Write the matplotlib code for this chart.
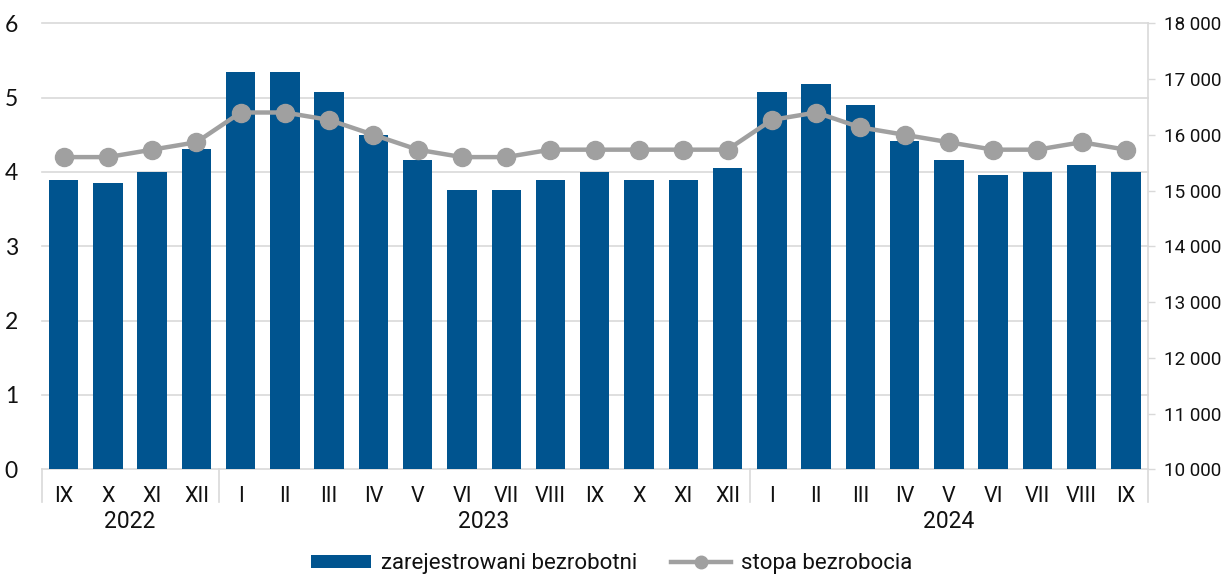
import matplotlib
matplotlib.use("Agg")
import matplotlib.pyplot as plt
from matplotlib.transforms import blended_transform_factory
from matplotlib.ticker import FuncFormatter
from matplotlib.lines import Line2D
from matplotlib.patches import Patch

months = ["IX", "X", "XI", "XII",
          "I", "II", "III", "IV", "V", "VI", "VII", "VIII", "IX", "X", "XI", "XII",
          "I", "II", "III", "IV", "V", "VI", "VII", "VIII", "IX"]
years = ["2022", "2023", "2024"]
year_counts = [4, 12, 9]
unemployed = [15190, 15140, 15340, 15750,
              17120, 17120, 16770, 16000, 15550, 15010, 15010, 15190, 15340, 15190, 15190, 15410,
              16770, 16920, 16540, 15880, 15550, 15270, 15340, 15460, 15340]
rate = [4.2, 4.2, 4.3, 4.4,
        4.8, 4.8, 4.7, 4.5, 4.3, 4.2, 4.2, 4.3, 4.3, 4.3, 4.3, 4.3,
        4.7, 4.8, 4.6, 4.5, 4.4, 4.3, 4.3, 4.4, 4.3]
rate_ticks = [0, 1, 2, 3, 4, 5, 6]
count_ticks = [10000, 11000, 12000, 13000, 14000, 15000, 16000, 17000, 18000]

BAR = "#00548F"
LINE = "#A0A0A0"
GRID = "#D9D9D9"
TXT = "#111111"

plt.rcParams['font.family'] = ['Roboto', 'DejaVu Sans']

fig = plt.figure(figsize=(12.23, 5.77), dpi=100)
ax = fig.add_axes([41.5 / 1223, 1 - 469.3 / 577, (1148 - 41.5) / 1223, (469.3 - 23.3) / 577])
ax2 = ax.twinx()

x = list(range(len(months)))
ax.set_xlim(-0.5, len(months) - 0.5)
ax.set_ylim(count_ticks[0], count_ticks[-1])
ax2.set_ylim(rate_ticks[0], rate_ticks[-1])

# gridlines from left (rate) scale, drawn behind bars
gtrans = blended_transform_factory(ax.transAxes, ax2.transData)
for t in rate_ticks:
    ax.plot([0, 1], [t, t], transform=gtrans, color=GRID, lw=1.2, zorder=0.5, clip_on=False)

ax.bar(x, unemployed, width=0.665, color=BAR, zorder=2)
ax2.plot(x, rate, color=LINE, lw=3.2, marker='o', markersize=13, zorder=3)

# bars axis -> right side
ax.yaxis.tick_right()
ax.set_yticks(count_ticks)
ax.yaxis.set_major_formatter(FuncFormatter(lambda v, p: f"{int(v):,}".replace(",", " ")))
ax.tick_params(axis='y', length=5, width=1, color=GRID, pad=6.5, labelsize=13.6, labelcolor=TXT)
# rate axis -> left side
ax2.yaxis.tick_left()
ax2.set_yticks(rate_ticks)
ax2.tick_params(axis='y', length=0, pad=17, labelsize=16.5, labelcolor=TXT)
for lab in ax2.get_yticklabels():
    lab.set_family(['Lato', 'DejaVu Sans'])

for a in (ax, ax2):
    for s in ('top', 'left', 'bottom', 'right'):
        a.spines[s].set_visible(False)
ax.spines['right'].set_visible(True)
ax.spines['right'].set_color(GRID)
ax.spines['right'].set_linewidth(1.2)

ax.set_xticks(x)
ax.set_xticklabels(months)
ax.tick_params(axis='x', length=0, pad=12, labelsize=15.5, labelcolor=TXT)

# category group separators and year labels
sep_trans = blended_transform_factory(ax.transData, ax.transAxes)
depth = -(502 - 469.3) / (469.3 - 23.3)
bounds = [-0.5]
for c in year_counts:
    bounds.append(bounds[-1] + c)
for b in bounds:
    ax.plot([b, b], [0, depth], transform=sep_trans, color=GRID, lw=1.2, clip_on=False)
for i, yr in enumerate(years):
    cx = (bounds[i] + bounds[i + 1]) / 2
    ax.text(cx, -(522 - 469.3) / (469.3 - 23.3), yr, transform=sep_trans,
            ha='center', va='center', fontsize=16.5, color=TXT)

handles = [Patch(facecolor=BAR, edgecolor='none'),
           Line2D([], [], color=LINE, lw=3.2, marker='o', markersize=9)]
leg = fig.legend(handles, ["zarejestrowani bezrobotni", "stopa bezrobocia"],
                 loc='center', bbox_to_anchor=(0.5, 1 - 564 / 577), ncol=2, frameon=False,
                 fontsize=16, handlelength=2.7, handleheight=0.5, handletextpad=0.45,
                 columnspacing=1.5, labelcolor=TXT, borderpad=0.2)

fig.savefig("out.png", dpi=100)
